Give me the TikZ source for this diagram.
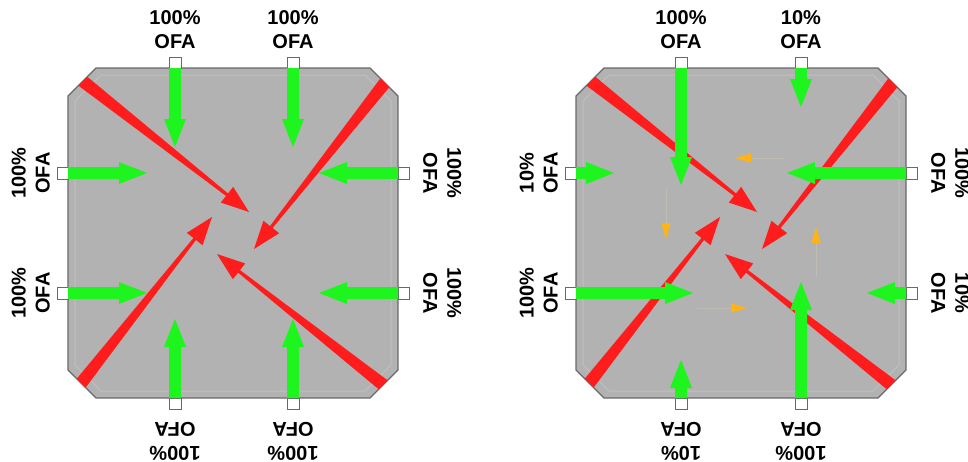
\documentclass[tikz,border=0pt]{standalone}
\usepackage{fontspec}
\setmainfont{Liberation Sans}
\usetikzlibrary{calc,arrows.meta}

\definecolor{boxgray}{RGB}{178,178,178}
\definecolor{edgegray}{RGB}{105,105,105}
\definecolor{innergray}{RGB}{192,192,192}
\definecolor{jetgreen}{RGB}{30,245,30}
\definecolor{jetred}{RGB}{255,28,28}
\definecolor{swirl}{RGB}{255,180,20}
\definecolor{swirlline}{RGB}{192,188,178}

% one overfire air port: stub, jet and label
\newcommand{\ofa}[5]{%
  \begin{scope}[shift={(#1)}, rotate=#2]
    \draw[stub] (-11,-6) rectangle (0,6);
    \fill[jet] (0,-6) -- ({#3-28},-6) -- ({#3-28},-11) -- (#3,0)
      -- ({#3-28},11) -- ({#3-28},6) -- (0,6) -- cycle;
    \node[ofa, rotate=#2+90, anchor=south] (#1-lab) at (-#5,0) {#4\\OFA};
  \end{scope}}

\begin{document}
\begin{tikzpicture}
    [
        x = 1pt, y = -1pt,
        furnace/.style = {fill = boxgray, draw = edgegray, line width = 1.2pt},
        inner/.style = {draw = innergray, line width = 1pt},
        stub/.style = {draw = edgegray, fill = white, line width = 0.8pt},
        jet/.style = {fill = jetgreen},
        flame/.style = {fill = jetred},
        eddy/.style = {draw = swirlline, line width = 1pt,
                       -{Triangle[length = 16pt, width = 9pt, color = swirl]}},
        ofa/.style = {font = \bfseries\fontsize{20}{24}\selectfont,
                      align = center, inner sep = 0pt}
    ]

    \useasboundingbox (0,0) rectangle (968,461);
    \clip (0,0) rectangle (968,461);

    \foreach \c in {233,741} {
        \begin{scope}[shift = {(\c,233)}]
            \draw[furnace] (-137,-165) -- (137,-165) -- (165,-137) -- (165,137)
                -- (137,165) -- (-137,165) -- (-165,137) -- (-165,-137) -- cycle;
            \draw[inner] (-132,-158) -- (132,-158) -- (158,-132) -- (158,132)
                -- (132,158) -- (-132,158) -- (-158,132) -- (-158,-132) -- cycle;
            \begin{scope}
                \clip (-137,-165) -- (137,-165) -- (165,-137) -- (165,137)
                    -- (137,165) -- (-137,165) -- (-165,137) -- (-165,-137) -- cycle;
                \foreach \sx/\sy/\tx/\ty in {-158/-158/16/-21, 158/-158/21/16,
                                              158/158/-16/21, -158/158/-21/-16} {
                    \coordinate (s) at (\sx,\sy);
                    \coordinate (t) at (\tx,\ty);
                    \coordinate (b) at ($(t)!28pt!(s)$);
                    \fill[flame] ($(s)!6.5pt!90:(t)$) -- ($(b)!1.6pt!90:(t)$)
                        -- ($(b)!10pt!90:(t)$) -- (t) -- ($(b)!10pt!-90:(t)$)
                        -- ($(b)!1.6pt!-90:(t)$) -- ($(s)!6.5pt!-90:(t)$) -- cycle;
                }
            \end{scope}
        \end{scope}
    }

    % recirculation in the right furnace
    \coordinate (B-c) at (741,233);
    \foreach \ax/\ay/\bx/\by in {44/-75/-6/-75, -75/-44/-75/6,
                                  -44/75/6/75, 75/44/75/-6} {
        \draw[eddy] ($(B-c)+(\ax,\ay)$) -- ($(B-c)+(\bx,\by)$);
    }

    % left furnace, all ports 100%
    \coordinate (A-n1) at (175,68);
    \coordinate (A-n2) at (293,68);
    \coordinate (A-w1) at (68,173);
    \coordinate (A-w2) at (68,293);
    \coordinate (A-e1) at (398,173);
    \coordinate (A-e2) at (398,293);
    \coordinate (A-s1) at (175,398);
    \coordinate (A-s2) at (293,398);
    \ofa{A-n1}{-90}{79}{100\%}{19}
    \ofa{A-n2}{-90}{79}{100\%}{19}
    \ofa{A-w1}{0}{79}{100\%}{18}
    \ofa{A-w2}{0}{79}{100\%}{18}
    \ofa{A-e1}{180}{79}{100\%}{25}
    \ofa{A-e2}{180}{79}{100\%}{25}
    \ofa{A-s1}{90}{79}{100\%}{24}
    \ofa{A-s2}{90}{79}{100\%}{24}

    % right furnace, biased ports
    \coordinate (B-n1) at (681,68);
    \coordinate (B-n2) at (801,68);
    \coordinate (B-w1) at (576,173);
    \coordinate (B-w2) at (576,293);
    \coordinate (B-e1) at (906,173);
    \coordinate (B-e2) at (906,293);
    \coordinate (B-s1) at (681,398);
    \coordinate (B-s2) at (801,398);
    \ofa{B-n1}{-90}{117}{100\%}{19}
    \ofa{B-n2}{-90}{39}{10\%}{19}
    \ofa{B-w1}{0}{38}{10\%}{18}
    \ofa{B-w2}{0}{117}{100\%}{18}
    \ofa{B-e1}{180}{119}{100\%}{25}
    \ofa{B-e2}{180}{39}{10\%}{25}
    \ofa{B-s1}{90}{38}{10\%}{24}
    \ofa{B-s2}{90}{116}{100\%}{24}
\end{tikzpicture}
\end{document}
